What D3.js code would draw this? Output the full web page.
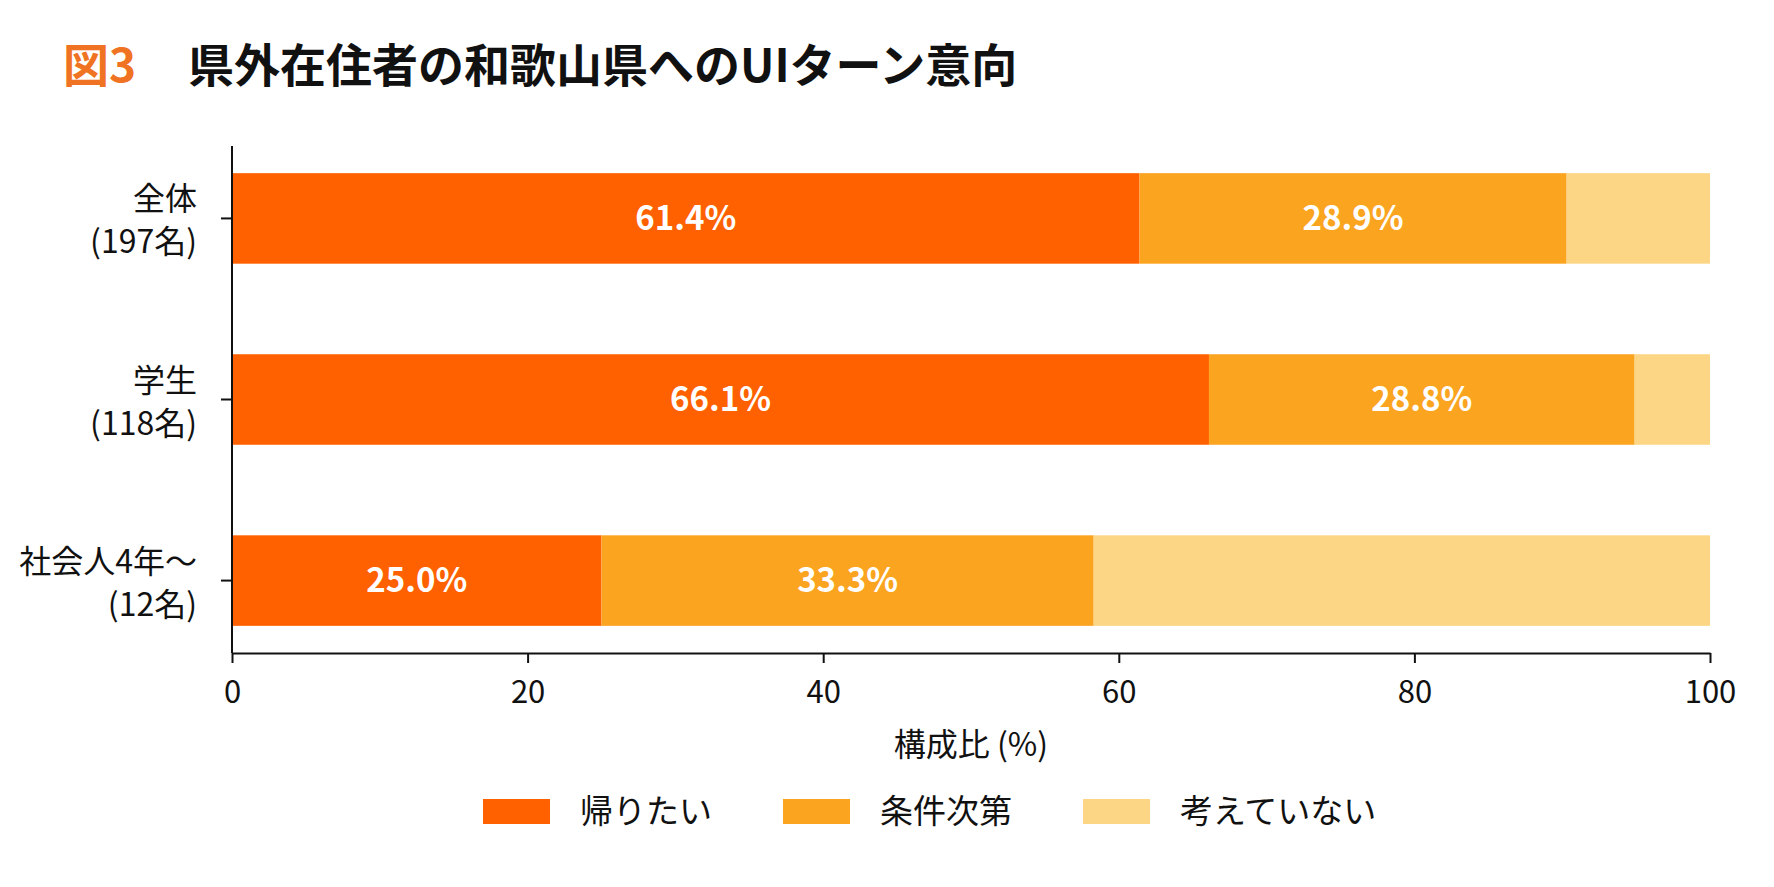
<!DOCTYPE html>
<html lang="ja">
<head>
    <meta charset="UTF-8">
    <title>図3 県外在住者の和歌山県へのUIターン意向</title>
    <script src="https://d3js.org/d3.v7.min.js"></script>
    <style>
        body {
            margin: 0;
            background: #fff;
            font-family: "Noto Sans CJK JP", "Noto Sans", sans-serif;
        }
        svg text {
            font-family: "Noto Sans CJK JP", "Noto Sans", sans-serif;
        }
    </style>
</head>
<body>
    <div id="chart"></div>

    <script>
        // Data
        const groups = ["全体", "学生", "社会人4年〜"];
        const groupCounts = ["(197名)", "(118名)", "(12名)"];
        const seriesNames = ["帰りたい", "条件次第", "考えていない"];
        const kaeritai = [61.4, 66.1, 25.0];
        const jokenShidai = [28.9, 28.8, 33.3];
        const kangaeteinai = [9.7, 5.1, 41.7];
        const xTicks = [0, 20, 40, 60, 80, 100];
        const colors = ["#FF6100", "#FBA420", "#FDD685"];

        const width = 1774;
        const height = 887;

        const svg = d3.select("#chart")
            .append("svg")
            .attr("width", width)
            .attr("height", height);

        // Title
        const title = svg.append("text")
            .attr("x", 63)
            .attr("y", 82)
            .attr("font-size", 46)
            .attr("font-weight", "bold");
        title.append("tspan")
            .attr("fill", "#EF7322")
            .text("図3");
        title.append("tspan")
            .attr("x", 188)
            .attr("fill", "#111")
            .text("県外在住者の和歌山県へのUIターン意向");

        // Scales
        const x = d3.scaleLinear()
            .domain([0, 100])
            .range([232, 1710]);

        const y = d3.scaleBand()
            .domain(groups)
            .range([146, 653])
            .paddingInner(0.5)
            .paddingOuter(0.15);

        const color = d3.scaleOrdinal()
            .domain(seriesNames)
            .range(colors);

        // Stack the three series
        const rows = groups.map((g, i) => ({
            group: g,
            "帰りたい": kaeritai[i],
            "条件次第": jokenShidai[i],
            "考えていない": kangaeteinai[i]
        }));
        const stacked = d3.stack().keys(seriesNames)(rows);

        const layers = svg.append("g")
            .selectAll("g")
            .data(stacked)
            .enter()
            .append("g")
            .attr("fill", d => color(d.key));

        layers.selectAll("rect")
            .data(d => d)
            .enter()
            .append("rect")
            .attr("x", d => x(d[0]))
            .attr("y", d => y(d.data.group))
            .attr("width", d => x(d[1]) - x(d[0]))
            .attr("height", y.bandwidth());

        // Value labels (first two series only)
        stacked.slice(0, 2).forEach(layer => {
            svg.append("g")
                .selectAll("text")
                .data(layer)
                .enter()
                .append("text")
                .attr("x", d => (x(d[0]) + x(d[1])) / 2)
                .attr("y", d => y(d.data.group) + y.bandwidth() / 2)
                .attr("dy", "0.36em")
                .attr("text-anchor", "middle")
                .attr("fill", "#fff")
                .attr("font-size", 33)
                .attr("font-weight", "bold")
                .text(d => (d[1] - d[0]).toFixed(1) + "%");
        });

        // X axis
        const xAxis = svg.append("g")
            .attr("transform", "translate(0,653)")
            .call(d3.axisBottom(x)
                .tickValues(xTicks)
                .tickSize(10)
                .tickSizeOuter(0)
                .tickPadding(18));
        xAxis.selectAll("path, line")
            .attr("stroke", "#111")
            .attr("stroke-width", 2);
        xAxis.selectAll("text")
            .attr("font-size", 31)
            .attr("fill", "#111");

        // Y axis
        const yAxis = svg.append("g")
            .attr("transform", "translate(232,0)")
            .call(d3.axisLeft(y)
                .tickSize(11)
                .tickSizeOuter(0)
                .tickPadding(24));
        yAxis.select(".domain")
            .attr("d", "M0,146V653");
        yAxis.selectAll("path, line")
            .attr("stroke", "#111")
            .attr("stroke-width", 2);

        yAxis.selectAll("text")
            .attr("font-size", 32)
            .attr("fill", "#111")
            .attr("dy", null)
            .each(function(d, i) {
                const t = d3.select(this);
                const xPos = t.attr("x");
                t.text(null);
                t.append("tspan")
                    .attr("x", xPos)
                    .attr("y", -8)
                    .text(d);
                t.append("tspan")
                    .attr("x", xPos)
                    .attr("y", 35)
                    .text(groupCounts[i]);
            });

        // Axis title
        svg.append("text")
            .attr("x", (x(0) + x(100)) / 2)
            .attr("y", 756)
            .attr("text-anchor", "middle")
            .attr("font-size", 32)
            .attr("fill", "#111")
            .text("構成比 (%)");

        // Legend
        const legend = svg.append("g")
            .selectAll("g")
            .data(seriesNames)
            .enter()
            .append("g")
            .attr("transform", (d, i) => "translate(" + (483 + i * 300) + ",799)");

        legend.append("rect")
            .attr("width", 67)
            .attr("height", 25)
            .attr("fill", d => color(d));

        legend.append("text")
            .attr("x", 97)
            .attr("y", 12.5)
            .attr("dy", "0.36em")
            .attr("font-size", 33)
            .attr("fill", "#111")
            .text(d => d);
    </script>
</body>
</html>
